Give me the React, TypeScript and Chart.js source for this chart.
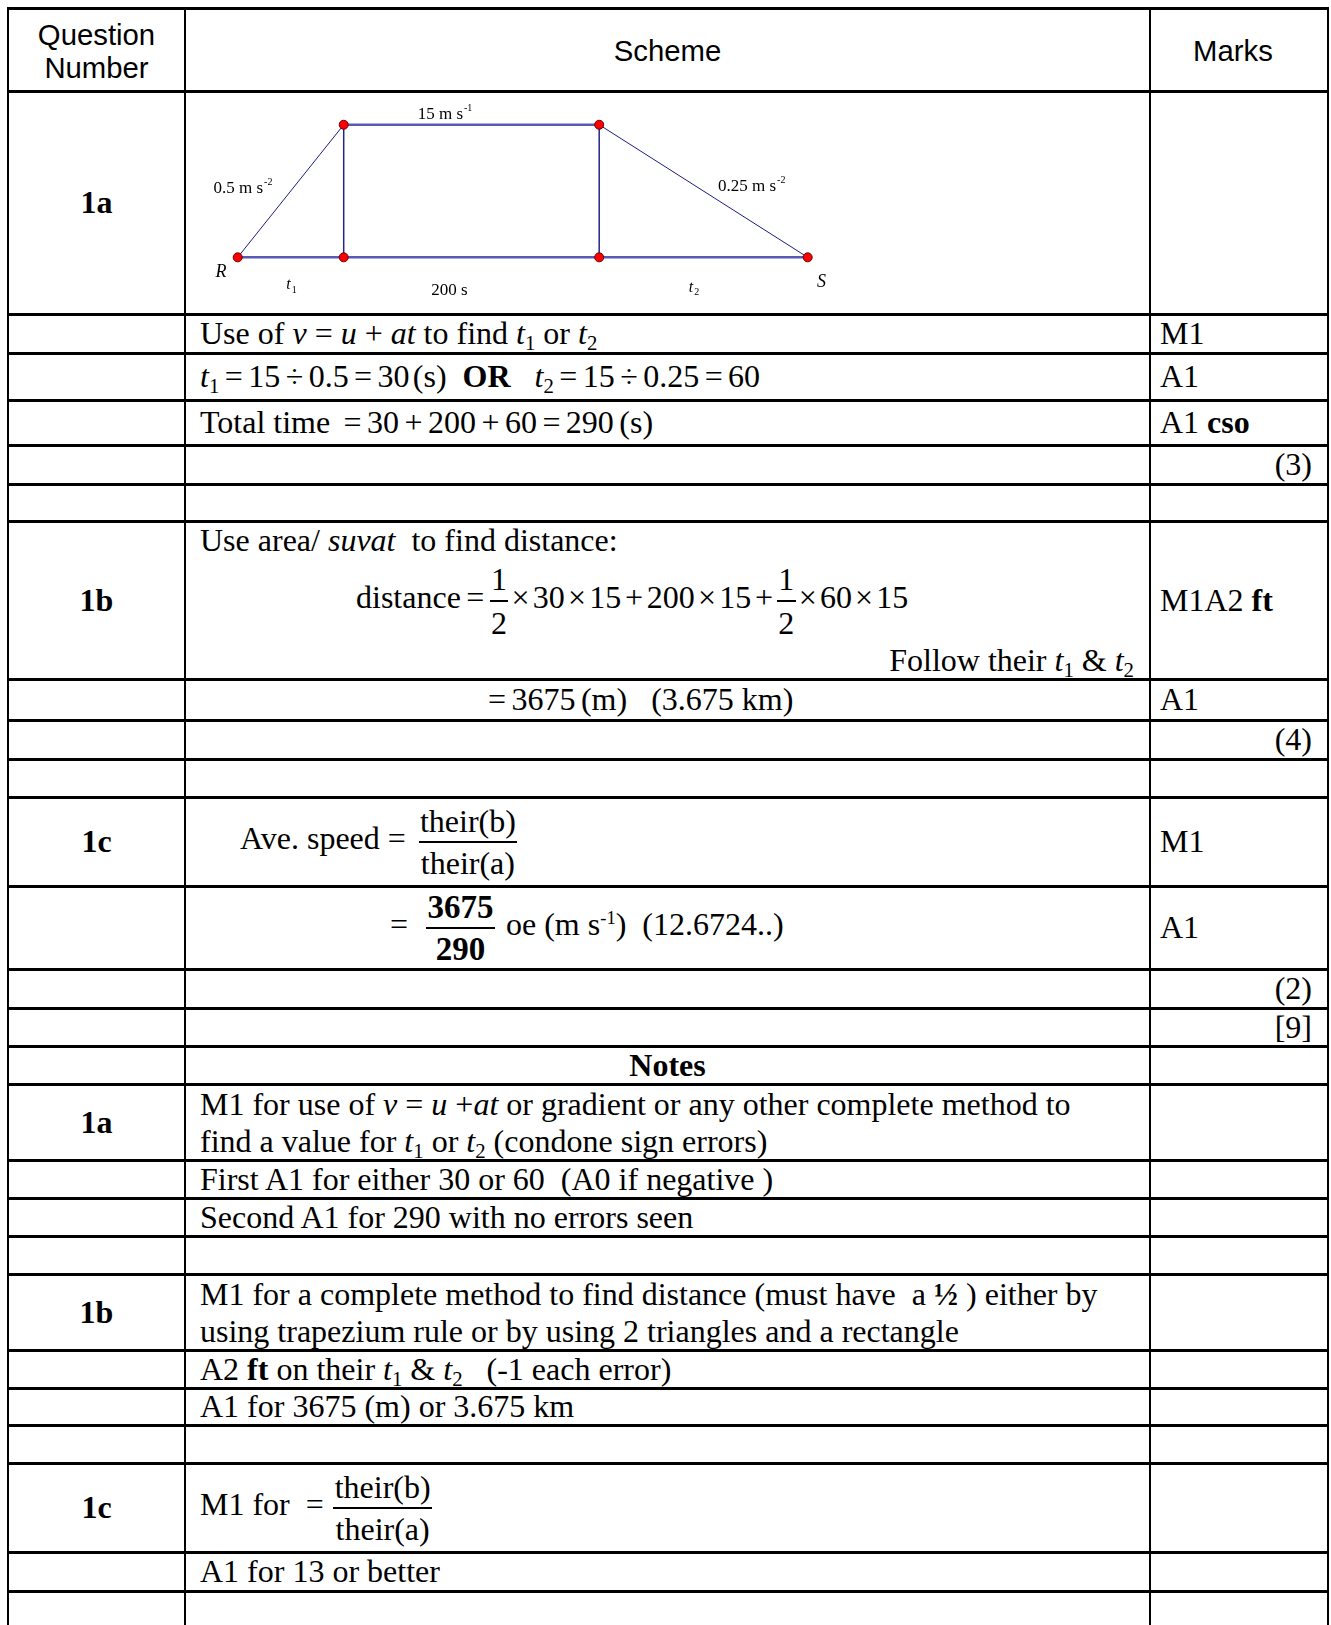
import React, { useEffect, useRef } from 'react';
import { Chart, registerables } from 'chart.js';

Chart.register(...registerables);

// ---------- speed–time sketch data (the sketch is not drawn to scale) ----------
// horizontal position of each node along the sketch's time axis: R, end of t1, end of 200 s, S
const nodeTime = [0, 106, 361.5, 570];
// speed at each node (m s^-1)
const nodeSpeed = [0, 15, 15, 0];
// visible range of the two (hidden) axes
const timeRange = [-51.7, 910.3];
const speedRange = [-6.41, 18.59];

// text on the sketch, anchored in data units
const labelTexts = ['15 m s', '0.5 m s', '0.25 m s', 'R', 't', '200 s', 't', 'S'];
const labelScripts = ['-1', '-2', '-2', '', '1', '', '2', ''];
const labelTime = [207.3, -24.2, 480.3, -16.7, 53.8, 211.8, 456.3, 583.8];
const labelSpeed = [16.1, 7.75, 7.98, -1.66, -3.13, -3.81, -3.42, -2.79];

const SERIF = '"Liberation Serif", "Times New Roman", Times, serif';
const SANS = '"Liberation Sans", Arial, Helvetica, sans-serif';

const labelStyle = [
  { align: 'center', italic: false, size: 17, kind: 'sup' },
  { align: 'left', italic: false, size: 17, kind: 'sup' },
  { align: 'left', italic: false, size: 17, kind: 'sup' },
  { align: 'center', italic: true, size: 18, kind: '' },
  { align: 'center', italic: true, size: 16, kind: 'sub' },
  { align: 'center', italic: false, size: 17, kind: '' },
  { align: 'center', italic: true, size: 16, kind: 'sub' },
  { align: 'center', italic: true, size: 18, kind: '' },
];

const sketchLabelPlugin = {
  id: 'sketchLabels',
  afterDatasetsDraw(chart: any) {
    const { ctx, scales } = chart;
    ctx.save();
    ctx.fillStyle = '#000';
    ctx.textBaseline = 'middle';
    ctx.textAlign = 'left';
    labelTexts.forEach((text, i) => {
      const st = labelStyle[i];
      const px = scales.x.getPixelForValue(labelTime[i]);
      const py = scales.y.getPixelForValue(labelSpeed[i]);
      const mainFont = `${st.italic ? 'italic ' : ''}${st.size}px ${SERIF}`;
      const smallFont = `${Math.round(st.size * 0.6)}px ${SERIF}`;
      ctx.font = mainFont;
      const w1 = ctx.measureText(text).width;
      const script = labelScripts[i];
      ctx.font = smallFont;
      const w2 = script ? ctx.measureText(script).width + 1 : 0;
      const left = st.align === 'center' ? px - (w1 + w2) / 2 : px;
      ctx.font = mainFont;
      ctx.fillText(text, left, py);
      if (script) {
        ctx.font = smallFont;
        const off = st.kind === 'sup' ? -st.size * 0.38 : st.size * 0.32;
        ctx.fillText(script, left + w1 + 1, py + off);
      }
    });
    ctx.restore();
  },
};

// ---------- page layout (px) ----------
const C0 = 8;
const C1 = 185;
const C2 = 1150;
const C3 = 1328;
const HL = [8, 91, 314, 353, 400, 445, 484, 521, 679, 720, 759, 797, 886, 969, 1008, 1046,
  1084, 1160, 1198, 1236, 1274, 1350, 1388, 1425, 1463, 1552, 1591];
const SX = 200;
const MX = 1160;
const MR = 1312;

const Sub = ({ children }: any) => (
  <sub style={{ fontSize: '0.65em', verticalAlign: '-0.3em', lineHeight: 0 }}>{children}</sub>
);
const Sup = ({ children }: any) => (
  <sup style={{ fontSize: '0.58em', verticalAlign: '0.62em', lineHeight: 0 }}>{children}</sup>
);
const Op = ({ children, s = 0.17 }: any) => <span style={{ margin: `0 ${s}em` }}>{children}</span>;
const Frac = ({ num, den, bold, lh = 40, style }: any) => (
  <span
    style={{
      display: 'inline-flex',
      flexDirection: 'column',
      alignItems: 'stretch',
      verticalAlign: 'middle',
      lineHeight: `${lh}px`,
      fontWeight: bold ? 700 : 400,
      textAlign: 'center',
      ...style,
    }}
  >
    <span style={{ padding: '0 0.04em', borderBottom: '2px solid #000' }}>{num}</span>
    <span style={{ padding: '0 0.04em' }}>{den}</span>
  </span>
);
const It = ({ children }: any) => <i>{children}</i>;

const Box = ({ x, y0, y1, w, align = 'left', children, style }: any) => (
  <div
    style={{
      position: 'absolute',
      left: x,
      top: y0,
      width: w,
      height: y1 - y0,
      display: 'flex',
      alignItems: 'center',
      justifyContent: align === 'center' ? 'center' : align === 'right' ? 'flex-end' : 'flex-start',
      whiteSpace: 'nowrap',
      ...style,
    }}
  >
    <span>{children}</span>
  </div>
);

const Q = ({ y0, y1, children }: any) => (
  <Box x={C0} y0={y0} y1={y1} w={C1 - C0} align="center" style={{ fontWeight: 700 }}>
    {children}
  </Box>
);
const S = ({ y0, y1, children, x = SX, align = 'left', style }: any) => (
  <Box x={x} y0={y0} y1={y1} w={C2 - x - 16} align={align} style={style}>
    {children}
  </Box>
);
const M = ({ y0, y1, children, align = 'left' }: any) => (
  <Box x={MX} y0={y0} y1={y1} w={MR - MX} align={align}>
    {children}
  </Box>
);

export default function App() {
  const canvasRef = useRef<HTMLCanvasElement>(null);

  useEffect(() => {
    const pt = (i: number) => ({ x: nodeTime[i], y: nodeSpeed[i] });
    const foot = (i: number) => ({ x: nodeTime[i], y: 0 });
    const line = (data: any[], color: string, width: number) => ({
      data,
      showLine: true,
      borderColor: color,
      borderWidth: width,
      pointRadius: 0,
      clip: false,
      order: 1,
    });
    const chart = new Chart(canvasRef.current as HTMLCanvasElement, {
      type: 'scatter',
      data: {
        datasets: [
          {
            data: [pt(0), pt(1), pt(2), pt(3), foot(1), foot(2)],
            showLine: false,
            pointRadius: 4.5,
            pointBackgroundColor: '#ff0000',
            pointBorderColor: '#6b0000',
            pointBorderWidth: 1,
            clip: false,
            order: 0,
          } as any,
          line([foot(0), foot(3)], '#5a5ab4', 2.5),
          line([pt(1), pt(2)], '#5a5ab4', 2.5),
          line([pt(0), pt(1)], '#1c1c80', 1),
          line([pt(2), pt(3)], '#1c1c80', 1),
          line([foot(1), pt(1)], '#25258a', 1.5),
          line([foot(2), pt(2)], '#25258a', 1.5),
        ],
      },
      options: {
        animation: false,
        responsive: false,
        maintainAspectRatio: false,
        devicePixelRatio: 1,
        layout: { padding: 0, autoPadding: false },
        events: [],
        plugins: { legend: { display: false }, tooltip: { enabled: false } },
        scales: {
          x: { type: 'linear', min: timeRange[0], max: timeRange[1], display: false },
          y: { type: 'linear', min: speedRange[0], max: speedRange[1], display: false },
        },
      } as any,
      plugins: [sketchLabelPlugin],
    });
    return () => chart.destroy();
  }, []);

  return (
    <div
      style={{
        position: 'relative',
        width: 1331,
        height: 1625,
        overflow: 'hidden',
        background: '#fff',
        color: '#000',
        fontFamily: SERIF,
        fontSize: 32,
      }}
    >
      <style>{'html,body{margin:0;padding:0;background:#fff;overflow:hidden}'}</style>

      <canvas
        ref={canvasRef}
        width={962}
        height={221}
        style={{ position: 'absolute', left: 186, top: 93, width: 962, height: 221 }}
      />

      {/* header */}
      <div
        style={{
          position: 'absolute', left: C0, top: HL[0], width: C1 - C0, height: HL[1] - HL[0],
          display: 'flex', flexDirection: 'column', alignItems: 'center', justifyContent: 'center',
          fontFamily: SANS, fontSize: 29.3, lineHeight: '33px', paddingTop: 3, boxSizing: 'border-box',
        }}
      >
        <div>Question</div>
        <div>Number</div>
      </div>
      <Box x={C1} y0={HL[0]} y1={HL[1]} w={C2 - C1} align="center" style={{ fontFamily: SANS, fontSize: 29.3, paddingTop: 1 }}>
        Scheme
      </Box>
      <Box x={C2} y0={HL[0]} y1={HL[1]} w={C3 - C2 - 12} align="center" style={{ fontFamily: SANS, fontSize: 29.3, paddingTop: 1 }}>
        Marks
      </Box>

      {/* 1a */}
      <Q y0={HL[1]} y1={HL[2]}>1a</Q>
      <S y0={HL[2]} y1={HL[3]}>
        Use of <It>v</It> = <It>u</It> + <It>at</It> to find <It>t</It><Sub>1</Sub> or <It>t</It><Sub>2</Sub>
      </S>
      <M y0={HL[2]} y1={HL[3]}>M1</M>
      <S y0={HL[3]} y1={HL[4]}>
        <It>t</It><Sub>1</Sub><Op>=</Op>15<Op>÷</Op>0.5<Op>=</Op>30<span style={{ marginLeft: '0.1em' }}>(s)</span>
        {'\u00a0\u00a0'}<b>OR</b>{'\u00a0\u00a0\u00a0'}
        <It>t</It><Sub>2</Sub><Op>=</Op>15<Op>÷</Op>0.25<Op>=</Op>60
      </S>
      <M y0={HL[3]} y1={HL[4]}>A1</M>
      <S y0={HL[4]} y1={HL[5]}>
        Total time <Op>=</Op>30<Op>+</Op>200<Op>+</Op>60<Op>=</Op>290<span style={{ marginLeft: '0.17em' }}>(s)</span>
      </S>
      <M y0={HL[4]} y1={HL[5]}>A1 <b>cso</b></M>
      <M y0={HL[5]} y1={HL[6]} align="right">(3)</M>

      {/* 1b */}
      <Q y0={HL[7]} y1={HL[8]}>1b</Q>
      <S y0={521} y1={560}>
        Use area/ <It>suvat</It>{'\u00a0 '}to find distance:
      </S>
      <S x={356} y0={558} y1={644}>
        distance<Op>=</Op>
        <Frac num="1" den="2" lh={42} />
        <Op s={0.1}>×</Op>30<Op s={0.1}>×</Op>15<Op s={0.12}>+</Op>200<Op s={0.1}>×</Op>15<Op s={0.12}>+</Op>
        <Frac num="1" den="2" lh={42} />
        <Op s={0.1}>×</Op>60<Op s={0.1}>×</Op>15
      </S>
      <S y0={641} y1={679} align="right">
        Follow their <It>t</It><Sub>1</Sub> &amp; <It>t</It><Sub>2</Sub>
      </S>
      <M y0={HL[7]} y1={HL[8]}>M1A2 <b>ft</b></M>
      <S x={488} y0={HL[8]} y1={HL[9]}>
        =<span style={{ marginLeft: '0.17em' }}>3675</span><span style={{ marginLeft: '0.17em' }}>(m)</span>
        {'\u00a0\u00a0\u00a0'}(3.675 km)
      </S>
      <M y0={HL[8]} y1={HL[9]}>A1</M>
      <M y0={HL[9]} y1={HL[10]} align="right">(4)</M>

      {/* 1c */}
      <Q y0={HL[11]} y1={HL[12]}>1c</Q>
      <S x={240} y0={HL[11]} y1={HL[12]}>
        Ave. speed{'\u00a0'}=<Frac num="their(b)" den="their(a)" style={{ marginLeft: '0.4em' }} />
      </S>
      <M y0={HL[11]} y1={HL[12]}>M1</M>
      <S x={390} y0={HL[12]} y1={HL[13]}>
        =<Frac num="3675" den="290" bold lh={40} style={{ marginLeft: '0.55em', fontSize: 33 }} />
        <span style={{ marginLeft: '0.35em' }}>oe (m s<Sup>-1</Sup>){'\u00a0\u00a0'}(12.6724..)</span>
      </S>
      <M y0={HL[12]} y1={HL[13]}>A1</M>
      <M y0={HL[13]} y1={HL[14]} align="right">(2)</M>
      <M y0={HL[14]} y1={HL[15]} align="right">[9]</M>

      {/* notes */}
      <Box x={C1} y0={HL[15]} y1={HL[16]} w={C2 - C1} align="center" style={{ fontWeight: 700 }}>
        Notes
      </Box>
      <Q y0={HL[16]} y1={HL[17]}>1a</Q>
      <div style={{ position: 'absolute', left: SX, top: HL[16] + 2, lineHeight: '37px', whiteSpace: 'nowrap' }}>
        <div>
          M1 for use of <It>v</It> = <It>u</It> +<It>at</It> or gradient or any other complete method to
        </div>
        <div>
          find a value for <It>t</It><Sub>1</Sub> or <It>t</It><Sub>2</Sub> (condone sign errors)
        </div>
      </div>
      <S y0={HL[17]} y1={HL[18]}>First A1 for either 30 or 60{'\u00a0 '}(A0 if negative )</S>
      <S y0={HL[18]} y1={HL[19]}>Second A1 for 290 with no errors seen</S>

      <Q y0={HL[20]} y1={HL[21]}>1b</Q>
      <div style={{ position: 'absolute', left: SX, top: HL[20] + 2, lineHeight: '37px', whiteSpace: 'nowrap' }}>
        <div>
          M1 for a complete method to find distance (must have{'\u00a0 '}a <b>½</b> ) either by
        </div>
        <div>using trapezium rule or by using 2 triangles and a rectangle</div>
      </div>
      <S y0={HL[21]} y1={HL[22]}>
        A2 <b>ft</b> on their <It>t</It><Sub>1</Sub> &amp; <It>t</It><Sub>2</Sub>{'\u00a0\u00a0 '}(-1 each error)
      </S>
      <S y0={HL[22]} y1={HL[23]}>A1 for 3675 (m) or 3.675 km</S>

      <Q y0={HL[24]} y1={HL[25]}>1c</Q>
      <S y0={HL[24]} y1={HL[25]}>
        M1 for{'\u00a0 '}=<Frac num="their(b)" den="their(a)" style={{ marginLeft: '0.3em' }} />
      </S>
      <S y0={HL[25]} y1={HL[26]}>A1 for 13 or better</S>

      {/* rules */}
      {HL.map((y, i) => (
        <div
          key={'h' + i}
          style={{
            position: 'absolute', left: C0 - 1, top: y - 1, width: C3 - C0 + 2,
            height: 3, background: '#000',
          }}
        />
      ))}
      {[C0, C1, C2, C3].map((x, i) => (
        <div
          key={'v' + i}
          style={{ position: 'absolute', left: x - 1, top: HL[0] - 1, width: 2, height: 1625 - HL[0] + 1, background: '#000' }}
        />
      ))}
    </div>
  );
}
